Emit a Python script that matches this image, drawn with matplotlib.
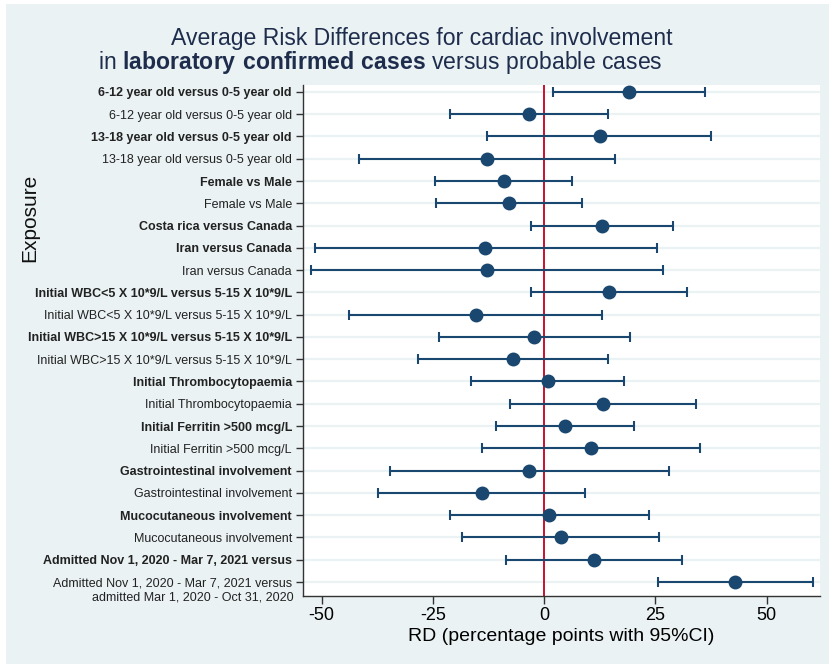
import numpy as np
import matplotlib
matplotlib.use("Agg")
import matplotlib.pyplot as plt
from matplotlib.patches import Rectangle

plt.rcParams['font.family'] = ['Liberation Sans', 'DejaVu Sans']
plt.rcParams['mathtext.fontset'] = 'custom'
plt.rcParams['mathtext.rm'] = 'Liberation Sans'
plt.rcParams['mathtext.bf'] = 'Liberation Sans:bold'

labels = [
    "6-12 year old versus 0-5 year old",
    "6-12 year old versus 0-5 year old",
    "13-18 year old versus 0-5 year old",
    "13-18 year old versus 0-5 year old",
    "Female vs Male",
    "Female vs Male",
    "Costa rica versus Canada",
    "Iran versus Canada",
    "Iran versus Canada",
    "Initial WBC<5 X 10*9/L versus 5-15 X 10*9/L",
    "Initial WBC<5 X 10*9/L versus 5-15 X 10*9/L",
    "Initial WBC>15 X 10*9/L versus 5-15 X 10*9/L",
    "Initial WBC>15 X 10*9/L versus 5-15 X 10*9/L",
    "Initial Thrombocytopaemia",
    "Initial Thrombocytopaemia",
    "Initial Ferritin >500 mcg/L",
    "Initial Ferritin >500 mcg/L",
    "Gastrointestinal involvement",
    "Gastrointestinal involvement",
    "Mucocutaneous involvement",
    "Mucocutaneous involvement",
    "Admitted Nov 1, 2020 - Mar 7, 2021 versus",
    "Admitted Nov 1, 2020 - Mar 7, 2021 versus",
]
bold = [1, 0, 1, 0, 1, 0, 1, 1, 0, 1, 0, 1, 0, 1, 0, 1, 0, 1, 0, 1, 0, 1, 0]

rd = [19.0, -3.3, 12.5, -12.9, -9.1, -7.9, 13.0, -13.2, -12.9, 14.6, -15.4, -2.2,
      -7.0, 0.8, 13.2, 4.7, 10.5, -3.3, -14.0, 1.2, 3.8, 11.1, 43.0]
lo = [1.9, -21.1, -12.8, -41.7, -24.5, -24.2, -2.9, -51.6, -52.5, -2.9, -43.8, -23.6,
      -28.4, -16.5, -7.7, -10.8, -13.9, -34.6, -37.3, -21.2, -18.4, -8.6, 25.5]
hi = [36.1, 14.3, 37.6, 16.0, 6.3, 8.6, 29.0, 25.3, 26.7, 32.0, 12.9, 19.3,
      14.3, 18.0, 34.2, 20.2, 35.0, 28.0, 9.1, 23.5, 25.9, 30.9, 60.5]

bg = '#eaf2f3'
navy = '#1a476f'
title_col = '#1f2d4d'

fig = plt.figure(figsize=(8.35, 6.68), dpi=100, facecolor='white')
fig.patches.append(Rectangle((6 / 835, 4 / 668), 823 / 835, 660 / 668,
                             transform=fig.transFigure, facecolor=bg,
                             edgecolor='none', zorder=-10))
ax = fig.add_axes([303 / 835, 1 - 596 / 668, 517 / 835, 511 / 668])
ax.set_facecolor('white')

y = np.arange(1, len(labels) + 1)
rd = np.array(rd)
err = [rd - np.array(lo), np.array(hi) - rd]

for yy in y:
    ax.axhline(yy, color=bg, lw=1.6, zorder=0)
ax.axvline(0, color='#c8102e', lw=1.4, zorder=1)
ax.errorbar(rd, y, xerr=err, fmt='o', color=navy, ms=9, elinewidth=1.5,
            capsize=3.5, capthick=1.5, zorder=3)

ax.set_ylim(23.63, 0.69)
ax.set_xlim(-54.2, 62)
ax.set_yticks(y)
ax.set_yticklabels(labels, fontsize=9)
for t, b in zip(ax.get_yticklabels(), bold):
    if b:
        t.set_fontweight('bold')
ax.annotate("admitted Mar 1, 2020 - Oct 31, 2020", xy=(0, 23), xycoords=('axes fraction', 'data'),
            xytext=(-6.5, -11.5), textcoords='offset points', ha='right', va='center',
            fontsize=9, color='#222222')

ax.set_xticks([-50, -25, 0, 25, 50])
ax.set_xticklabels(['-50', '-25', '0', '25', '50'], fontsize=13)
ax.tick_params(axis='x', length=6, width=1, color='#333333', pad=2)
ax.tick_params(axis='y', length=5, width=1, color='#333333', pad=3, labelcolor='#222222')

for s in ['top', 'right']:
    ax.spines[s].set_visible(False)
for s in ['left', 'bottom']:
    ax.spines[s].set_color('#333333')
    ax.spines[s].set_linewidth(1)

ax.set_xlabel('RD (percentage points with 95%CI)', fontsize=14, labelpad=3)

fig.text(30 / 835, 1 - 218 / 668, 'Exposure', rotation=90, ha='center', va='center',
         fontsize=15, color='#111111')

fig.text(422 / 835, 1 - 38 / 668, 'Average Risk Differences for cardiac involvement',
         ha='center', va='center', fontsize=16.6, color=title_col)
fig.text(380 / 835, 1 - 62 / 668,
         r'in $\mathbf{laboratory\ confirmed\ cases}$ versus probable cases',
         ha='center', va='center', fontsize=16.6, color=title_col)

fig.savefig('out.png', dpi=100, facecolor=fig.get_facecolor())
